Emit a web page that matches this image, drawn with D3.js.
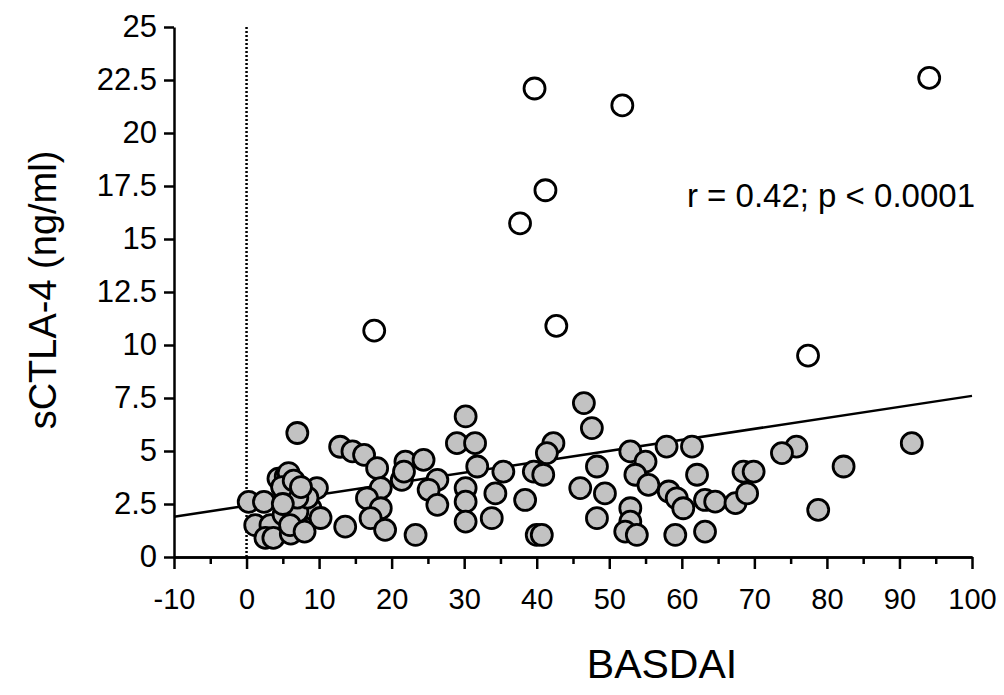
<!DOCTYPE html>
<html>
<head>
<meta charset="utf-8">
<script src="https://d3js.org/d3.v7.min.js"></script>
<style>
  body { margin: 0; background: #fff; }
  text { font-family: "Liberation Sans", Arial, sans-serif; fill: #000; }
</style>
</head>
<body>
<div id="vis"></div>
<script>
// Frame
const FRAME_WIDTH = 1004;
const FRAME_HEIGHT = 695;
const PLOT = {left: 174, right: 972, top: 27, bottom: 557};

// Data: filled (grey) points, BASDAI vs sCTLA-4
const GREY_X = [0.3, 2.4, 1.2, 3.3, 2.6, 3.7, 4.4, 5.4, 5.8, 6.3, 7.0, 9.7, 5.1, 7.7, 9.5, 6.1, 8.8, 7.0, 8.4, 7.0, 10.2, 4.9, 6.5, 7.5, 5.0, 6.0, 8.0,
                12.9, 14.6, 16.2, 18.0, 18.5, 16.6, 18.5, 17.1, 19.1, 13.6, 23.3, 21.9, 21.4, 21.7, 24.4, 26.3, 25.1, 26.3, 29.0,
                30.2, 31.5, 31.8, 30.2, 30.2, 30.2, 46.5, 47.6, 42.3, 41.4, 35.4, 39.6, 40.9, 34.3, 38.4, 33.8, 40.0, 40.7, 48.3, 46.0, 49.4, 48.3,
                52.9, 57.9, 61.4, 55.0, 53.6, 55.4, 62.1, 58.2, 59.3, 60.2, 63.2, 64.6, 67.4, 69.0, 68.5, 69.9, 52.9, 52.9, 52.2, 53.8, 59.1, 63.2,
                75.8, 73.8, 82.3, 78.8, 91.7];
const GREY_Y = [2.6, 2.6, 1.5, 1.5, 0.9, 0.9, 3.7, 3.8, 3.96, 3.25, 5.85, 3.25, 2.0, 1.6, 1.9, 1.1, 2.3, 2.14, 2.8, 2.8, 1.84, 3.3, 3.6, 3.3, 2.5, 1.5, 1.2,
                5.2, 4.98, 4.82, 4.19, 3.25, 2.77, 2.3, 1.83, 1.28, 1.43, 1.04, 4.5, 3.64, 4.03, 4.58, 3.64, 3.17, 2.46, 5.37,
                6.63, 5.37, 4.27, 3.25, 2.61, 1.67, 7.26, 6.08, 5.37, 4.9, 4.03, 4.03, 3.88, 3.0, 2.69, 1.83, 1.04, 1.04, 4.27, 3.25, 3.0, 1.83,
                4.98, 5.21, 5.21, 4.5, 3.88, 3.4, 3.88, 3.09, 2.77, 2.3, 2.69, 2.61, 2.54, 3.0, 4.03, 4.03, 2.3, 1.67, 1.2, 1.04, 1.04, 1.2,
                5.21, 4.9, 4.27, 2.22, 5.37];

// Open (white) points
const OPEN_X = [17.6, 37.7, 39.7, 41.2, 42.7, 51.8, 77.4, 94.1];
const OPEN_Y = [10.68, 15.74, 22.1, 17.3, 10.9, 21.3, 9.5, 22.6];

// Regression line end points
const LINE_X = [-10, 100];
const LINE_Y = [1.9, 7.6];

// Ticks
const Y_TICKS = [0, 2.5, 5, 7.5, 10, 12.5, 15, 17.5, 20, 22.5, 25];
const X_TICKS = [-10, 0, 10, 20, 30, 40, 50, 60, 70, 80, 90, 100];
const X_MINOR = [-5, 5, 15, 25, 35, 45, 55, 65, 75, 85, 95];

const FRAME = d3.select("#vis")
                .append("svg")
                  .attr("width", FRAME_WIDTH)
                  .attr("height", FRAME_HEIGHT);

const X_SCALE = d3.scaleLinear()
                  .domain([-10, 100])
                  .range([PLOT.left, PLOT.right]);

const Y_SCALE = d3.scaleLinear()
                  .domain([0, 25])
                  .range([PLOT.bottom, PLOT.top]);

// dotted line at BASDAI = 0
FRAME.append("line")
     .attr("x1", X_SCALE(0)).attr("x2", X_SCALE(0))
     .attr("y1", Y_SCALE(25)).attr("y2", Y_SCALE(0))
     .attr("stroke", "#000")
     .attr("stroke-width", 2.5)
     .attr("stroke-dasharray", "2,2");

// regression line
const lineData = LINE_X.map((x, i) => [x, LINE_Y[i]]);
FRAME.append("path")
     .datum(lineData)
     .attr("fill", "none")
     .attr("stroke", "#000")
     .attr("stroke-width", 2.5)
     .attr("d", d3.line().x(d => X_SCALE(d[0])).y(d => Y_SCALE(d[1])));

// points
const grey = GREY_X.map((x, i) => ({x: x, y: GREY_Y[i]}));
const open = OPEN_X.map((x, i) => ({x: x, y: OPEN_Y[i]}));

FRAME.selectAll(".grey")
     .data(grey)
     .enter()
     .append("circle")
       .attr("class", "grey")
       .attr("cx", d => X_SCALE(d.x))
       .attr("cy", d => Y_SCALE(d.y))
       .attr("r", 10.5)
       .attr("fill", "#c2c2c2")
       .attr("stroke", "#000")
       .attr("stroke-width", 2.8);

FRAME.selectAll(".open")
     .data(open)
     .enter()
     .append("circle")
       .attr("class", "open")
       .attr("cx", d => X_SCALE(d.x))
       .attr("cy", d => Y_SCALE(d.y))
       .attr("r", 10.5)
       .attr("fill", "#fff")
       .attr("stroke", "#000")
       .attr("stroke-width", 2.8);

// y axis
const yAxis = FRAME.append("g")
     .attr("transform", "translate(" + PLOT.left + ",0)")
     .call(d3.axisLeft(Y_SCALE).tickValues(Y_TICKS).tickSize(10).tickSizeOuter(0)
             .tickPadding(7).tickFormat(d => String(d)));

// x axis minor ticks then major ticks
FRAME.append("g")
     .attr("transform", "translate(0," + PLOT.bottom + ")")
     .call(d3.axisBottom(X_SCALE).tickValues(X_MINOR).tickSize(7).tickSizeOuter(0).tickFormat(""));

const xAxis = FRAME.append("g")
     .attr("transform", "translate(0," + PLOT.bottom + ")")
     .call(d3.axisBottom(X_SCALE).tickValues(X_TICKS).tickSize(12).tickSizeOuter(0)
             .tickPadding(19).tickFormat(d => String(d)));

FRAME.selectAll(".domain, .tick line")
     .attr("stroke", "#000")
     .attr("stroke-width", 2.5);

yAxis.selectAll("text").attr("font-size", "31px");
xAxis.selectAll("text").attr("font-size", "29px");

// axis titles
FRAME.append("text")
     .attr("x", 662)
     .attr("y", 678)
     .attr("text-anchor", "middle")
     .attr("font-size", "41px")
     .text("BASDAI");

FRAME.append("text")
     .attr("transform", "translate(56,290) rotate(-90)")
     .attr("text-anchor", "middle")
     .attr("font-size", "38px")
     .text("sCTLA-4 (ng/ml)");

// correlation note
FRAME.append("text")
     .attr("x", 975)
     .attr("y", 207)
     .attr("text-anchor", "end")
     .attr("font-size", "33px")
     .text("r = 0.42; p < 0.0001");
</script>
</body>
</html>
